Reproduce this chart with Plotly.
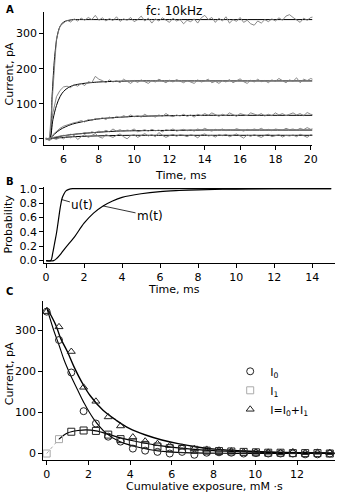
import plotly.graph_objects as go

# ---------------- Panel A data (raw traces, sampled every 0.2 ms) ----------------
tA = [round(5.0 + 0.2 * i, 1) for i in range(77)]
trace1 = [2, -3, 140, 285, 322, 330, 338, 333, 342, 336,
          344, 338, 346, 340, 352, 338, 345, 336, 343, 337,
          348, 335, 342, 338, 346, 334, 340, 350, 336, 344,
          330, 342, 336, 345, 338, 332, 344, 336, 340, 328,
          338, 334, 342, 330, 345, 352, 340, 346, 332, 344,
          336, 348, 330, 340, 335, 346, 332, 338, 328, 324,
          336, 330, 340, 334, 342, 336, 345, 338, 350, 354,
          346, 340, 332, 344, 338, 346, 348]
trace2 = [-2, 3, 75, 120, 138, 148, 150, 146, 155, 150,
          158, 152, 163, 160, 178, 170, 166, 160, 168, 162,
          166, 160, 170, 163, 158, 166, 161, 168, 163, 158,
          166, 162, 170, 164, 160, 167, 162, 169, 164, 160,
          166, 163, 158, 168, 162, 165, 170, 160, 164, 158,
          166, 162, 169, 160, 165, 171, 163, 158, 167, 162,
          170, 163, 166, 160, 168, 164, 172, 166, 160, 168,
          164, 174, 160, 170, 166, 172, 168]
trace3 = [3, -4, 12, 22, 30, 36, 40, 44, 46, 48,
          52, 48, 55, 52, 58, 56, 60, 55, 62, 58,
          64, 60, 66, 62, 68, 63, 66, 62, 70, 64,
          66, 62, 68, 64, 72, 66, 63, 68, 65, 70,
          64, 68, 62, 70, 66, 72, 67, 74, 68, 64,
          70, 66, 74, 68, 64, 72, 68, 66, 74, 70,
          67, 72, 65, 70, 66, 74, 68, 72, 66, 70,
          74, 68, 72, 66, 75, 70, 68]
trace4 = [-3, 2, 4, 6, 8, 10, 9, 13, 11, 15,
          14, 18, 15, 20, 17, 22, 19, 24, 20, 28,
          22, 26, 21, 25, 23, 28, 20, 24, 26, 22,
          27, 23, 25, 20, 26, 24, 28, 22, 25, 27,
          23, 26, 22, 28, 24, 30, 25, 22, 27, 24,
          28, 23, 26, 24, 29, 25, 22, 27, 24, 28,
          25, 30, 24, 27, 23, 28, 26, 24, 30, 26,
          28, 24, 30, 26, 32, 27, 30]
trace5 = [0, -5, 2, -2, 5, 0, 8, 3, 10, -2,
          6, 12, 4, 9, 15, 6, 2, 12, 8, 4,
          10, 14, 6, 0, 9, 12, 4, 10, 15, 8,
          12, 6, 18, 10, 4, 9, 13, 7, 12, 10,
          6, 12, 9, 3, 11, 14, 8, 10, 5, 12,
          9, 13, 6, 10, 14, 8, 2, 11, 7, 12,
          8, 4, 10, 13, 6, 9, 12, 5, 10, 8,
          11, 6, 13, 9, 4, 12, 9]

# Panel A fitted curves
fit1_t = [5.0, 5.2, 5.35, 5.5, 5.65, 5.8, 6.0, 6.3, 6.6, 7.0, 8, 10, 12, 15, 20.1]
fit1_y = [0, 0, 120, 235, 295, 320, 333, 338, 340, 340, 340, 340, 340, 340, 340]
fit2_t = [5.0, 5.2, 5.4, 5.6, 5.8, 6.0, 6.3, 6.6, 7.0, 7.5, 8.0, 9, 10, 12, 15, 20.1]
fit2_y = [0, 0, 55, 95, 120, 135, 147, 153, 157, 160, 162, 164, 165, 165, 165, 165]
fit3_t = [5.0, 5.2, 5.5, 5.8, 6.1, 6.5, 7, 7.5, 8, 9, 10, 11, 12, 14, 16, 20.1]
fit3_y = [0, 0, 14, 26, 34, 42, 48, 53, 57, 61, 64, 65, 66, 67, 67, 67]
fit4_t = [5.0, 5.2, 6, 7, 8, 9, 10, 12, 14, 16, 20.1]
fit4_y = [0, 0, 9, 15, 19, 22, 23, 24, 25, 25, 25]
fit5_t = [5.0, 5.2, 6, 7, 8, 9, 10, 12, 20.1]
fit5_y = [0, 0, 4, 7, 8.5, 9.5, 10, 10, 10]

# ---------------- Panel B data ----------------
u_t = [0, 0.25, 0.35, 0.45, 0.55, 0.65, 0.75, 0.85, 0.95, 1.05, 1.2, 1.4, 2, 15]
u_y = [0, 0, 0.1, 0.24, 0.38, 0.56, 0.74, 0.87, 0.93, 0.97, 0.99, 1.0, 1.0, 1.0]
m_t = [0, 0.4, 0.6, 0.8, 1.0, 1.25, 1.5, 2, 2.5, 3, 3.5, 4, 5, 6, 7, 8, 10, 12, 15]
m_y = [0, 0, 0.04, 0.10, 0.17, 0.25, 0.33, 0.52, 0.66, 0.76, 0.83, 0.88, 0.93, 0.96,
       0.975, 0.985, 0.995, 1.0, 1.0]

# ---------------- Panel C data ----------------
xC = [0, 0.59, 1.18, 1.77, 2.36, 2.95, 3.54, 4.13, 4.72, 5.31, 5.9, 6.49, 7.08, 7.67,
      8.26, 8.85, 9.44, 10.03, 10.62, 11.21, 11.8, 12.39, 12.98, 13.57]
I0 = [345, 276, 197, 103, 73, 41, 29, 12, 7, 4, 0, 4, -3, 2, 3, 2, 0, 1, 0, 0, 0, -2, -2, 0]
I1 = [0, 35, 53, 56, 55, 46, 35, 27, 21, 17, 13, 11, 9, 7, 6, 5, 4, 3, 2, 2, 1, 1, 1, 0]
Itot = [345, 308, 248, 161, 127, 89, 67, 40, 30, 24, 19, 15, 12, 10, 8, 6, 4, 3, 3, 2, 4, 2, 3, 2]

fitI0_x = [0, 0.36, 0.59, 0.83, 1.14, 1.46, 1.77, 2.24, 2.86, 3.49, 4.11, 4.9, 5.84, 7, 9, 13.8]
fitI0_y = [355, 296, 264, 228, 191, 157, 125, 85, 49, 29, 19, 10, 4, 1.5, 0.5, 0]
fitI_x = [0, 0.44, 0.67, 0.99, 1.3, 1.69, 2.08, 2.7, 3.33, 3.96, 4.74, 5.52, 6.3, 7.2, 8.2, 9.5, 11, 13.8]
fitI_y = [355, 312, 280, 248, 212, 173, 141, 105, 81, 61, 45, 33, 24, 16, 10, 6, 3, 1]
fitI1a_x = [0, 0.3, 0.59]
fitI1a_y = [0, 17, 35]
fitI1_x = [0.59, 0.8, 1.0, 1.18, 1.5, 1.9, 2.36, 2.95, 3.54, 4.13, 4.72, 5.31, 5.9, 6.5,
           7.1, 8, 9, 10, 11, 12, 13.8]
fitI1_y = [35, 44, 50, 53, 56, 57.5, 55, 47, 38, 31, 25, 20, 16, 13, 10, 7, 5, 3.5, 2.5, 1.5, 1]

W, H = 340, 499
FONT = "DejaVu Sans"


def fx(p):
    return p / W


def fy(p):
    return 1 - p / H


fig = go.Figure()

# Panel A
for ft, fyv in [(fit1_t, fit1_y), (fit2_t, fit2_y), (fit3_t, fit3_y), (fit4_t, fit4_y), (fit5_t, fit5_y)]:
    fig.add_trace(go.Scatter(x=ft, y=fyv, mode="lines", line=dict(color="black", width=1.0, shape="spline"),
                             xaxis="x", yaxis="y", showlegend=False, hoverinfo="skip"))
for tr in [trace1, trace2, trace3, trace4, trace5]:
    fig.add_trace(go.Scatter(x=tA, y=tr, mode="lines", line=dict(color="#7a7a7a", width=0.9),
                             xaxis="x", yaxis="y", showlegend=False, hoverinfo="skip"))

# Panel B
fig.add_trace(go.Scatter(x=u_t, y=u_y, mode="lines", line=dict(color="black", width=1.2, shape="spline"),
                         xaxis="x2", yaxis="y2", showlegend=False))
fig.add_trace(go.Scatter(x=m_t, y=m_y, mode="lines", line=dict(color="black", width=1.2, shape="spline"),
                         xaxis="x2", yaxis="y2", showlegend=False))

# Panel C curves
fig.add_trace(go.Scatter(x=fitI_x, y=fitI_y, mode="lines", line=dict(color="black", width=1.4, shape="spline"),
                         xaxis="x3", yaxis="y3", showlegend=False))
fig.add_trace(go.Scatter(x=fitI0_x, y=fitI0_y, mode="lines", line=dict(color="black", width=1.1, shape="spline"),
                         xaxis="x3", yaxis="y3", showlegend=False))
fig.add_trace(go.Scatter(x=fitI1a_x, y=fitI1a_y, mode="lines", line=dict(color="#aaaaaa", width=1, dash="dot"),
                         xaxis="x3", yaxis="y3", showlegend=False))
fig.add_trace(go.Scatter(x=fitI1_x, y=fitI1_y, mode="lines", line=dict(color="black", width=1.2, shape="spline"),
                         xaxis="x3", yaxis="y3", showlegend=False))

# Panel C markers
fig.add_trace(go.Scatter(x=xC, y=I0, mode="markers", name="I<sub>0</sub>",
                         marker=dict(symbol="circle-open", size=7, color="#222", line=dict(width=1)),
                         xaxis="x3", yaxis="y3"))
sq_colors = ["#aaaaaa", "#aaaaaa"] + ["#222"] * (len(xC) - 2)
fig.add_trace(go.Scatter(x=xC, y=I1, mode="markers", name="I<sub>1</sub>",
                         marker=dict(symbol="square-open", size=7, color=sq_colors, line=dict(width=1)),
                         xaxis="x3", yaxis="y3"))
fig.add_trace(go.Scatter(x=xC, y=Itot, mode="markers", name="I=I<sub>0</sub>+I<sub>1</sub>",
                         marker=dict(symbol="triangle-up-open", size=7, color="#222", line=dict(width=1)),
                         xaxis="x3", yaxis="y3"))

axis_common = dict(showline=True, linecolor="black", linewidth=1, showgrid=False, zeroline=False,
                   ticks="outside", ticklen=4, tickwidth=1, tickcolor="black",
                   tickfont=dict(family=FONT, size=11, color="black"))

fig.update_layout(
    width=W, height=H,
    margin=dict(l=0, r=0, t=0, b=0),
    paper_bgcolor="white", plot_bgcolor="white",
    font=dict(family=FONT, size=11, color="black"),
    xaxis=dict(domain=[fx(43), fx(317)], range=[4.9, 20.1], anchor="y",
               tickvals=[6, 8, 10, 12, 14, 16, 18, 20], **axis_common),
    yaxis=dict(domain=[fy(143), fy(7)], range=[-18, 362], anchor="x",
               tickvals=[0, 100, 200, 300], **axis_common),
    xaxis2=dict(domain=[fx(43), fx(340)], range=[-0.1, 15.2], anchor="y2",
                tickvals=[0, 2, 4, 6, 8, 10, 12, 14], **axis_common),
    yaxis2=dict(domain=[fy(263), fy(186)], range=[-0.03, 1.02], anchor="x2",
                tickvals=[0, 0.2, 0.4, 0.6, 0.8, 1.0], tickformat=".1f", **axis_common),
    xaxis3=dict(domain=[fx(42), fx(340)], range=[-0.17, 13.82], anchor="y3",
                tickvals=[0, 2, 4, 6, 8, 10, 12], **axis_common),
    yaxis3=dict(domain=[fy(464), fy(302)], range=[-15, 371], anchor="x3",
                tickvals=[0, 100, 200, 300], **axis_common),
    legend=dict(x=fx(233), y=fy(359), xanchor="left", yanchor="top",
                bgcolor="rgba(0,0,0,0)", font=dict(family=FONT, size=11),
                itemwidth=30, tracegroupgap=0),
    showlegend=True,
)

ann = []


def txt(x, y, s, size=11, angle=0, bold=False, xanchor="center"):
    ann.append(dict(x=fx(x), y=fy(y), xref="paper", yref="paper", text=("<b>%s</b>" % s) if bold else s,
                    showarrow=False, xanchor=xanchor, yanchor="middle", textangle=angle,
                    font=dict(family=FONT, size=size, color="black")))


txt(2, 5, "A", size=10, bold=True, xanchor="left")
txt(2, 180, "B", size=10, bold=True, xanchor="left")
txt(2, 292, "C", size=10, bold=True, xanchor="left")
txt(176, 6, "fc: 10kHz", size=12)
txt(183, 174, "Time, ms")
txt(176, 290, "Time, ms")
txt(207, 491, "Cumulative exposure, mM \u00b7s")
txt(8, 70, "Current, pA", angle=-90)
txt(7, 223, "Probability", angle=-90)
txt(8, 376, "Current, pA", angle=-90)

ann.append(dict(x=0.81, y=0.85, xref="x2", yref="y2", text="u(t)", showarrow=True, arrowhead=0,
                arrowwidth=0.8, arrowcolor="black", ax=21, ay=6, standoff=0,
                font=dict(family=FONT, size=12, color="black")))
ann.append(dict(x=3.0, y=0.76, xref="x2", yref="y2", text="m(t)", showarrow=True, arrowhead=0,
                arrowwidth=0.8, arrowcolor="black", ax=47, ay=10, standoff=0,
                font=dict(family=FONT, size=12, color="black")))

fig.update_layout(annotations=ann)

fig.write_html("out.html")
